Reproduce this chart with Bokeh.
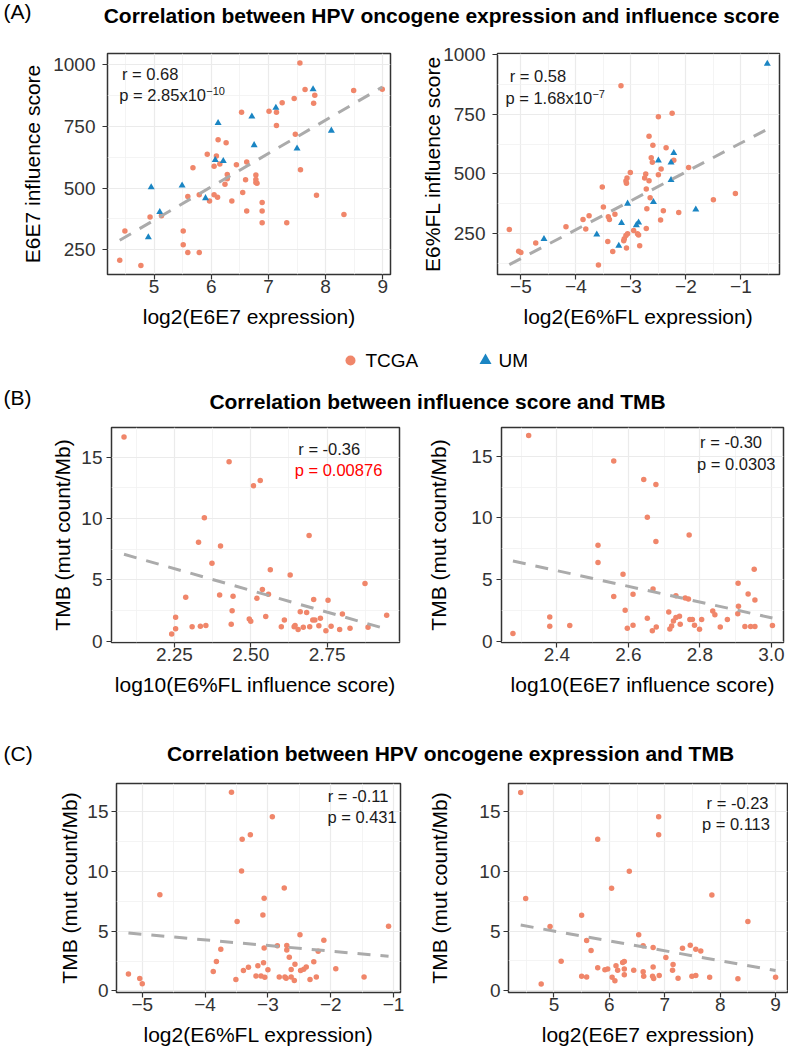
import numpy as np
from bokeh.plotting import figure
from bokeh.models import Range1d, FixedTicker
from bokeh.layouts import column, row
from bokeh.core.properties import value
from bokeh.embed import file_html
from bokeh.resources import INLINE

FONT = "Liberation Sans"
TCGA_COLOR = "#F0866A"
UM_COLOR = "#1A85C3"
LINE_COLOR = "#ABABAB"
INK = "#1A1A1A"

# ---------------- data ----------------
# (A) left: log2(E6E7 expression) vs E6E7 influence score
a1_tcga_x = [4.40, 4.49, 4.77, 4.93, 5.13, 5.51, 5.51, 5.59, 5.59, 5.68,
             5.79, 5.79, 5.93, 5.97, 6.05, 6.05, 6.09, 6.11, 6.12, 6.15,
             6.26, 6.24, 6.28, 6.28, 6.36, 6.44, 6.53, 6.55, 6.60, 6.62,
             6.62, 6.78, 6.78, 6.78, 6.80, 6.89, 6.89, 6.89, 7.01, 7.14,
             7.14, 7.24, 7.32, 7.45, 7.47, 7.55, 7.56, 7.64, 7.81, 7.79,
             7.84, 8.32, 8.49, 8.99]
a1_tcga_y = [207, 326, 186, 382, 387, 326, 270, 238, 466, 582,
             238, 473, 637, 447, 588, 473, 630, 463, 696, 598,
             684, 515, 555, 538, 447, 594, 808, 482, 534, 407,
             606, 553, 535, 522, 519, 441, 407, 359, 812, 808,
             754, 846, 359, 863, 718, 1007, 574, 900, 877, 844,
             471, 393, 896, 901]
a1_um_x = [4.95, 5.10, 4.90, 5.49, 5.90, 6.07, 6.12, 6.21, 6.71, 6.75, 7.13, 7.50, 7.78, 8.10]
a1_um_y = [503, 403, 300, 510, 459, 614, 764, 610, 790, 674, 826, 660, 901, 733]

# (A) right: log2(E6%FL expression) vs E6%FL influence score
a2_tcga_x = [-5.21, -5.04, -5.00, -4.73, -4.18, -3.87, -3.82, -3.76, -3.59, -3.52,
             -3.50, -3.42, -3.41, -3.39, -3.33, -3.29, -3.18, -3.13, -3.12, -3.09,
             -3.08, -3.06, -3.09, -3.07, -3.01, -3.08, -2.95, -2.88, -2.86, -2.84,
             -2.75, -2.73, -2.72, -2.72, -2.67, -2.67, -2.65, -2.60, -2.61, -2.63,
             -2.50, -2.50, -2.45, -2.41, -2.46, -2.36, -2.25, -2.22, -2.13, -1.95,
             -1.50, -1.10, -2.71]
a2_tcga_y = [268, 177, 172, 211, 279, 310, 270, 325, 119, 446,
             362, 218, 321, 310, 176, 332, 869, 221, 229, 243,
             190, 250, 471, 483, 506, 461, 264, 250, 245, 200,
             483, 500, 437, 272, 658, 472, 401, 620, 549, 568,
             739, 497, 521, 346, 307, 610, 754, 557, 339, 527,
             392, 418, 355]
a2_um_x = [-4.58, -3.62, -3.22, -3.17, -3.06, -2.90, -2.86, -2.59, -2.50, -2.27, -2.22, -2.27, -1.82, -0.52]
a2_um_y = [228, 247, 200, 295, 376, 286, 297, 383, 556, 548, 588, 475, 351, 961]

# (B) left: log10(E6%FL influence score) vs TMB
b1_x = [2.085, 2.241, 2.254, 2.254, 2.287, 2.308, 2.335, 2.353, 2.329, 2.348,
        2.373, 2.401, 2.398, 2.429, 2.436, 2.439, 2.442, 2.495, 2.500, 2.509,
        2.520, 2.531, 2.538, 2.549, 2.558, 2.564, 2.600, 2.610, 2.629, 2.645,
        2.642, 2.655, 2.672, 2.662, 2.683, 2.691, 2.693, 2.703, 2.710, 2.706,
        2.723, 2.728, 2.746, 2.753, 2.763, 2.791, 2.800, 2.825, 2.874, 2.884,
        2.945]
b1_y = [16.63, 0.59, 1.02, 1.95, 3.58, 1.18, 1.23, 1.28, 8.07, 10.05,
        6.36, 7.75, 3.77, 14.63, 1.39, 2.49, 3.66, 1.82, 1.63, 12.67,
        3.50, 13.10, 4.22, 2.01, 3.82, 5.83, 1.18, 1.74, 5.40, 1.28,
        1.18, 0.96, 1.15, 2.41, 2.35, 8.61, 1.18, 1.74, 1.74, 3.40,
        1.26, 1.87, 0.86, 3.34, 1.23, 0.96, 2.22, 1.07, 4.71, 1.15,
        2.11]

# (B) right: log10(E6E7 influence score) vs TMB
b2_x = [2.277, 2.321, 2.380, 2.380, 2.436, 2.515, 2.515, 2.559, 2.559, 2.585,
        2.591, 2.597, 2.613, 2.613, 2.643, 2.653, 2.653, 2.669, 2.667, 2.677,
        2.677, 2.678, 2.713, 2.716, 2.721, 2.726, 2.733, 2.733, 2.743, 2.745,
        2.759, 2.768, 2.772, 2.779, 2.770, 2.785, 2.799, 2.805, 2.836, 2.842,
        2.857, 2.877, 2.907, 2.908, 2.906, 2.935, 2.926, 2.942, 2.954, 2.952,
        2.954, 3.003]
b2_y = [0.62, 16.68, 1.97, 1.22, 1.27, 7.78, 6.38, 14.62, 3.62, 5.43,
        2.51, 1.05, 3.81, 1.30, 13.11, 10.05, 1.86, 4.24, 0.86, 12.70,
        8.08, 1.16, 2.38, 1.00, 1.24, 1.65, 3.70, 1.92, 2.03, 1.38,
        3.51, 3.43, 1.76, 1.76, 8.62, 1.30, 0.97, 1.76, 2.46, 2.14,
        1.16, 1.76, 4.70, 2.84, 2.24, 3.84, 1.19, 1.19, 1.19, 5.84,
        3.35, 1.27]

# (C) left: log2(E6%FL expression) vs TMB
c1_x = [-5.22, -5.04, -5.00, -4.72, -3.87, -3.82, -3.75, -3.58, -3.51, -3.49,
        -3.42, -3.41, -3.39, -3.31, -3.28, -3.19, -3.16, -3.11, -3.07, -3.08,
        -3.06, -3.06, -3.05, -3.00, -2.93, -2.85, -2.82, -2.74, -2.73, -2.70,
        -2.70, -2.66, -2.63, -2.63, -2.57, -2.58, -2.49, -2.48, -2.43, -2.39,
        -2.33, -2.27, -2.23, -2.20, -2.11, -1.92, -1.47, -1.08, -2.71]
c1_y = [1.41, 1.03, 0.59, 8.05, 1.62, 2.46, 3.49, 16.65, 0.95, 5.81,
        10.05, 12.70, 1.70, 1.97, 13.08, 1.24, 2.11, 1.24, 2.35, 6.35,
        7.76, 3.59, 1.14, 1.76, 14.59, 3.78, 1.16, 8.62, 1.16, 3.43,
        3.81, 2.81, 1.78, 1.16, 2.22, 0.86, 4.70, 1.70, 1.81, 2.00,
        0.95, 2.43, 1.16, 3.32, 4.24, 1.86, 1.16, 5.41, 1.05]

# (C) right: log2(E6E7 expression) vs TMB
c2_x = [4.40, 4.49, 4.77, 4.93, 5.13, 5.50, 5.50, 5.59, 5.59, 5.67,
        5.79, 5.79, 5.92, 5.97, 6.04, 6.05, 6.10, 6.12, 6.15, 6.24,
        6.27, 6.27, 6.27, 6.36, 6.44, 6.53, 6.61, 6.61, 6.62, 6.79,
        6.79, 6.78, 6.80, 6.89, 6.89, 6.90, 7.02, 7.15, 7.14, 7.24,
        7.32, 7.46, 7.49, 7.56, 7.56, 7.65, 7.81, 7.85, 8.32, 8.50,
        9.00]
c2_y = [16.62, 7.73, 0.55, 5.37, 2.47, 6.33, 1.21, 1.15, 4.20, 3.37,
        12.70, 1.92, 1.75, 1.81, 8.58, 1.12, 0.82, 2.08, 1.70, 2.36,
        2.44, 1.81, 1.34, 10.01, 1.70, 4.69, 3.76, 1.59, 1.21, 3.62,
        1.97, 1.21, 1.01, 14.59, 13.08, 1.26, 2.77, 2.19, 1.70, 1.04,
        3.56, 3.81, 1.21, 3.48, 1.26, 3.32, 1.12, 8.03, 0.99, 5.79,
        1.12]

# statistics shown on each panel
stats_r = ["r = 0.68", "r = 0.58", "r = -0.36", "r = -0.30", "r = -0.11", "r = -0.23"]
stats_p = ["p = 2.85x10", "p = 1.68x10", "p = 0.00876", "p = 0.0303", "p = 0.431", "p = 0.113"]
stats_p_exp = ["\u221210", "\u22127", None, None, None, None]

section_labels = ["(A)", "(B)", "(C)"]
section_titles = ["Correlation between HPV oncogene expression and influence score",
                  "Correlation between influence score and TMB",
                  "Correlation between HPV oncogene expression and TMB"]
legend_labels = ["TCGA", "UM"]

# tick definitions
ticks_log2_e6e7 = [5, 6, 7, 8, 9]
minor_log2_e6e7 = [4.5, 5.5, 6.5, 7.5, 8.5]
ticks_log2_fl = [-5, -4, -3, -2, -1]
minor_log2_fl = [-4.5, -3.5, -2.5, -1.5, -0.5]
labels_log2_fl = ["\u22125", "\u22124", "\u22123", "\u22122", "\u22121"]
ticks_score = [250, 500, 750, 1000]
minor_score = [125, 375, 625, 875]
ticks_tmb = [0, 5, 10, 15]
minor_tmb = [2.5, 7.5, 12.5]
ticks_b1 = [2.25, 2.5, 2.75]
minor_b1 = [2.125, 2.375, 2.625, 2.875]
labels_b1 = ["2.25", "2.50", "2.75"]
ticks_b2 = [2.4, 2.6, 2.8, 3.0]
minor_b2 = [2.3, 2.5, 2.7, 2.9]
labels_b2 = ["2.4", "2.6", "2.8", "3.0"]


def make_panel(w, h, borders, xr, yr, xt, xm, yt, ym, xlab, ylab, xlabels=None,
               y_tick_standoff=7, y_label_standoff=6):
    bl, br, bt, bb = borders
    p = figure(width=w, height=h, x_range=Range1d(*xr), y_range=Range1d(*yr), title=None,
               output_backend="svg", toolbar_location=None,
               min_border_left=bl, min_border_right=br, min_border_top=bt, min_border_bottom=bb)
    p.outline_line_color = "#333333"
    p.outline_line_width = 1.5
    p.xaxis.ticker = FixedTicker(ticks=xt, minor_ticks=xm)
    p.yaxis.ticker = FixedTicker(ticks=yt, minor_ticks=ym)
    if xlabels is not None:
        p.xaxis.major_label_overrides = {t: s for t, s in zip(xt, xlabels)}
    p.axis.axis_line_color = None
    p.axis.major_tick_line_color = "#333333"
    p.axis.major_tick_line_width = 1.2
    p.axis.major_tick_out = 5
    p.axis.major_tick_in = 0
    p.axis.minor_tick_line_color = None
    p.axis.major_label_text_font = FONT
    p.axis.major_label_text_font_size = "19px"
    p.axis.major_label_text_color = "#333333"
    p.axis.axis_label_text_font = FONT
    p.axis.axis_label_text_font_size = "21px"
    p.axis.axis_label_text_font_style = "normal"
    p.axis.axis_label_text_color = "black"
    p.xaxis.major_label_standoff = 0
    p.xaxis.axis_label_standoff = 9
    p.yaxis.major_label_standoff = y_tick_standoff
    p.yaxis.axis_label_standoff = y_label_standoff
    p.xaxis.axis_label = xlab
    p.yaxis.axis_label = ylab
    for g in (p.xgrid, p.ygrid):
        g.grid_line_color = "#EBEBEB"
        g.grid_line_width = 1.2
        g.minor_grid_line_color = "#F1F1F1"
        g.minor_grid_line_width = 0.8
    return p


def add_points(p, xs, ys, marker, color, size):
    p.scatter(x=xs, y=ys, marker=marker, size=size, fill_color=color, line_color=None)


def add_fit(p, xs, ys):
    coef = np.polyfit(np.asarray(xs, float), np.asarray(ys, float), 1)
    xx = np.array([min(xs), max(xs)])
    p.line(x=xx, y=np.polyval(coef, xx), line_color=LINE_COLOR, line_width=3, line_dash="13 10")


def annotate(p, xr, yr, fx, fy, txt, color=INK, sup=None):
    x = xr[0] + fx * (xr[1] - xr[0])
    y = yr[1] - fy * (yr[1] - yr[0])
    p.text(x=[x], y=[y], text=[txt], text_font=value(FONT), text_font_size=value("16.5px"),
           text_color=color, text_baseline="middle", text_align="left")
    if sup:
        p.text(x=[x], y=[y], text=[sup], text_font=value(FONT), text_font_size=value("11px"),
               text_color=color, text_baseline="middle", text_align="left",
               x_offset=87, y_offset=-3.5)


def header(h, label, label_y, title, title_x, title_y):
    p = figure(width=788, height=h, x_range=Range1d(0, 788), y_range=Range1d(h, 0), title=None,
               output_backend="svg", toolbar_location=None, x_axis_type=None, y_axis_type=None,
               min_border=0)
    p.outline_line_color = None
    p.grid.visible = False
    p.text(x=[3], y=[label_y], text=[label], text_font=value(FONT), text_font_size=value("21px"),
           text_color="black", text_baseline="middle", text_align="left")
    p.text(x=[title_x], y=[title_y], text=[title], text_font=value(FONT),
           text_font_size=value("21px"), text_font_style="bold", text_color="black",
           text_baseline="middle", text_align="center")
    return p


# ---------------- panels ----------------
A1_xr, A1_yr = (4.186, 9.134), (149, 1046)
A2_xr, A2_yr = (-5.425, -0.298), (79.5, 1004)
B1_xr, B1_yr = (2.044, 2.987), (-0.10, 17.41)
B2_xr, B2_yr = (2.245, 3.034), (-0.10, 17.33)
C1_xr, C1_yr = (-5.41, -0.89), (-0.14, 17.38)
C2_xr, C2_yr = (4.18, 9.215), (-0.16, 17.38)

a1 = make_panel(405, 298, (107, 15, 12, 62), A1_xr, A1_yr, ticks_log2_e6e7, minor_log2_e6e7,
                ticks_score, [375, 625, 875], "log2(E6E7 expression)", "E6E7 influence score",
                y_tick_standoff=7, y_label_standoff=6)
add_points(a1, a1_tcga_x, a1_tcga_y, "circle", TCGA_COLOR, 5.5)
add_points(a1, a1_um_x, a1_um_y, "triangle", UM_COLOR, 7)
add_fit(a1, a1_tcga_x + a1_um_x, a1_tcga_y + a1_um_y)
annotate(a1, A1_xr, A1_yr, 0.0512, 0.0936, stats_r[0])
annotate(a1, A1_xr, A1_yr, 0.0417, 0.1872, stats_p[0], sup=stats_p_exp[0])

a2 = make_panel(383, 298, (92, 9, 13, 64), A2_xr, A2_yr, ticks_log2_fl, minor_log2_fl,
                ticks_score, minor_score, "log2(E6%FL expression)", "E6%FL influence score",
                labels_log2_fl, y_tick_standoff=7, y_label_standoff=-4)
add_points(a2, a2_tcga_x, a2_tcga_y, "circle", TCGA_COLOR, 5.5)
add_points(a2, a2_um_x, a2_um_y, "triangle", UM_COLOR, 7)
add_fit(a2, a2_tcga_x + a2_um_x, a2_tcga_y + a2_um_y)
annotate(a2, A2_xr, A2_yr, 0.0433, 0.102, stats_r[1])
annotate(a2, A2_xr, A2_yr, 0.028, 0.2003, stats_p[1], sup=stats_p_exp[1])

b1 = make_panel(424, 278, (111, 25, 4, 56), B1_xr, B1_yr, ticks_b1, minor_b1,
                ticks_tmb, minor_tmb, "log10(E6%FL influence score)", "TMB (mut count/Mb)", labels_b1,
                y_tick_standoff=4, y_label_standoff=4)
add_points(b1, b1_x, b1_y, "circle", TCGA_COLOR, 5.5)
add_fit(b1, b1_x, b1_y)
annotate(b1, B1_xr, B1_yr, 0.6486, 0.0985, stats_r[2])
annotate(b1, B1_xr, B1_yr, 0.6361, 0.1979, stats_p[2], color="#FF0000")

b2 = make_panel(364, 278, (76, 5, 5, 58), B2_xr, B2_yr, ticks_b2, minor_b2,
                ticks_tmb, minor_tmb, "log10(E6E7 influence score)", "TMB (mut count/Mb)", labels_b2,
                y_tick_standoff=4, y_label_standoff=18)
add_points(b2, b2_x, b2_y, "circle", TCGA_COLOR, 5.5)
add_fit(b2, b2_x, b2_y)
annotate(b2, B2_xr, B2_yr, 0.7042, 0.066, stats_r[3])
annotate(b2, B2_xr, B2_yr, 0.6936, 0.1693, stats_p[3])

c1 = make_panel(425, 276, (116, 25, 10, 54), C1_xr, C1_yr, ticks_log2_fl, minor_log2_fl[:-1],
                ticks_tmb, minor_tmb, "log2(E6%FL expression)", "TMB (mut count/Mb)", labels_log2_fl,
                y_tick_standoff=3, y_label_standoff=3)
add_points(c1, c1_x, c1_y, "circle", TCGA_COLOR, 5.5)
add_fit(c1, c1_x, c1_y)
annotate(c1, C1_xr, C1_yr, 0.7437, 0.0593, stats_r[4])
annotate(c1, C1_xr, C1_yr, 0.7426, 0.1597, stats_p[4])

c2 = make_panel(363, 276, (82, 1, 11, 56), C2_xr, C2_yr, ticks_log2_e6e7, minor_log2_e6e7,
                ticks_tmb, minor_tmb, "log2(E6E7 expression)", "TMB (mut count/Mb)",
                y_tick_standoff=3, y_label_standoff=25)
add_points(c2, c2_x, c2_y, "circle", TCGA_COLOR, 5.5)
add_fit(c2, c2_x, c2_y)
annotate(c2, C2_xr, C2_yr, 0.71, 0.0937, stats_r[5])
annotate(c2, C2_xr, C2_yr, 0.6932, 0.1954, stats_p[5])

# ---------------- headers and legend ----------------
hA = header(40, section_labels[0], 11, section_titles[0], 441, 14.5)
hB = header(44, section_labels[1], 19, section_titles[1], 437, 23)
hC = header(72, section_labels[2], 53, section_titles[2], 450, 53)

lg = figure(width=788, height=40, x_range=Range1d(0, 788), y_range=Range1d(40, 0), title=None,
            output_backend="svg", toolbar_location=None, x_axis_type=None, y_axis_type=None,
            min_border=0)
lg.outline_line_color = None
lg.grid.visible = False
lg.scatter(x=[350], y=[22], marker="circle", size=10, fill_color=TCGA_COLOR, line_color=None)
lg.scatter(x=[485], y=[22], marker="triangle", size=12, fill_color=UM_COLOR, line_color=None)
lg.text(x=[365, 498], y=[22, 22], text=legend_labels, text_font=value(FONT),
        text_font_size=value("19px"), text_color="black", text_baseline="middle", text_align="left")

layout = column(hA, row(a1, a2), lg, hB, row(b1, b2), hC, row(c1, c2))

open("out.html", "w").write(file_html(layout, INLINE))
